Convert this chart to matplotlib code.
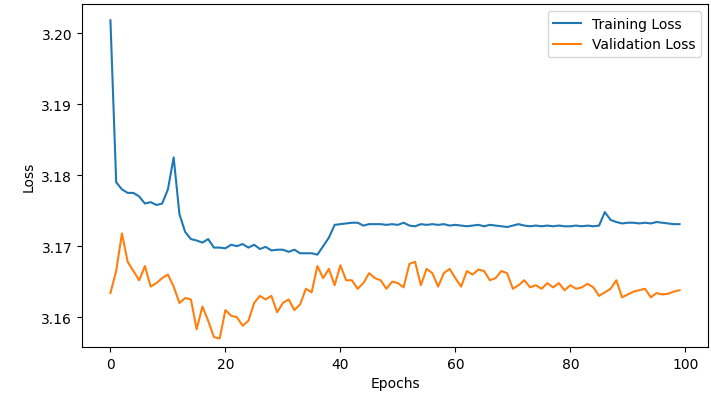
import numpy as np
import matplotlib.pyplot as plt

# Loss per epoch
train_loss = [
    3.2018, 3.1790, 3.1780, 3.1775, 3.1775, 3.1770, 3.1760, 3.1762, 3.1758, 3.1760,
    3.1780, 3.1825, 3.1745, 3.1720, 3.1710, 3.1708, 3.1705, 3.1710, 3.1698, 3.1698,
    3.1697, 3.1702, 3.1700, 3.1703, 3.1698, 3.1702, 3.1696, 3.1699, 3.1694, 3.1695,
    3.1695, 3.1692, 3.1695, 3.1690, 3.1690, 3.1690, 3.1688, 3.1700, 3.1712, 3.1730,
    3.1731, 3.1732, 3.1733, 3.1733, 3.1729, 3.1731, 3.1731, 3.1731, 3.1730, 3.1731,
    3.1730, 3.1733, 3.1729, 3.1728, 3.1731, 3.1730, 3.1731, 3.1730, 3.1731, 3.1729,
    3.1730, 3.1729, 3.1728, 3.1729, 3.1730, 3.1728, 3.1730, 3.1729, 3.1728, 3.1727,
    3.1729, 3.1731, 3.1729, 3.1728, 3.1729, 3.1728, 3.1729, 3.1728, 3.1729, 3.1728,
    3.1728, 3.1729, 3.1728, 3.1729, 3.1728, 3.1729, 3.1748, 3.1737, 3.1734, 3.1732,
    3.1733, 3.1733, 3.1732, 3.1733, 3.1732, 3.1734, 3.1733, 3.1732, 3.1731, 3.1731,
]
val_loss = [
    3.1634, 3.1665, 3.1718, 3.1678, 3.1665, 3.1652, 3.1672, 3.1643, 3.1648, 3.1655,
    3.1660, 3.1643, 3.1620, 3.1627, 3.1625, 3.1583, 3.1615, 3.1595, 3.1572, 3.1570,
    3.1610, 3.1602, 3.1600, 3.1588, 3.1595, 3.1620, 3.1630, 3.1625, 3.1630, 3.1607,
    3.1620, 3.1625, 3.1610, 3.1618, 3.1640, 3.1635, 3.1672, 3.1655, 3.1668, 3.1645,
    3.1673, 3.1652, 3.1652, 3.1640, 3.1648, 3.1662, 3.1655, 3.1652, 3.1640, 3.1650,
    3.1648, 3.1642, 3.1675, 3.1678, 3.1645, 3.1668, 3.1662, 3.1643, 3.1662, 3.1668,
    3.1655, 3.1643, 3.1665, 3.1660, 3.1667, 3.1665, 3.1652, 3.1655, 3.1665, 3.1662,
    3.1640, 3.1645, 3.1652, 3.1642, 3.1645, 3.1640, 3.1648, 3.1642, 3.1648, 3.1638,
    3.1645, 3.1640, 3.1642, 3.1647, 3.1642, 3.1630, 3.1635, 3.1640, 3.1652, 3.1628,
    3.1632, 3.1636, 3.1638, 3.1640, 3.1628, 3.1634, 3.1632, 3.1633, 3.1636, 3.1638,
]
epochs = np.arange(len(train_loss))

fig = plt.figure(figsize=(7.11, 4.10), dpi=100)
ax = fig.add_axes([0.1153, 0.1512, 0.8805, 0.8366])

ax.plot(epochs, train_loss, label="Training Loss")
ax.plot(epochs, val_loss, label="Validation Loss")

ax.set_xlabel("Epochs")
ax.set_ylabel("Loss")
ax.set_ylim(3.1558, 3.2041)
ax.set_yticks([3.16, 3.17, 3.18, 3.19, 3.20])
ax.legend(loc="upper right")

fig.savefig("out.png", dpi=100)
